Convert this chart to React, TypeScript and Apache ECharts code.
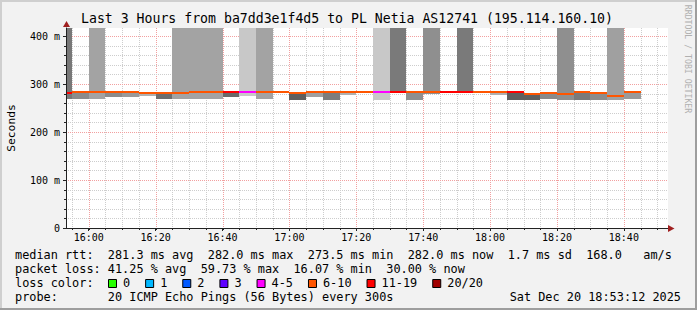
import React, { useEffect, useRef } from 'react';
import * as echarts from 'echarts';

// ---------- data ----------
const TITLE = 'Last 3 Hours from ba7dd3e1f4d5 to PL Netia AS12741 (195.114.160.10)';
const Y_AXIS_NAME = 'Seconds';
const WATERMARK = 'RRDTOOL / TOBI OETIKER';
const VIEW_START = '15:53:12';
const VIEW_END = '18:53:12';
const STEP_MIN = 5;

const intervalStarts = [
  '15:50', '15:55', '16:00', '16:05', '16:10', '16:15', '16:20', '16:25', '16:30', '16:35',
  '16:40', '16:45', '16:50', '16:55', '17:00', '17:05', '17:10', '17:15', '17:20', '17:25',
  '17:30', '17:35', '17:40', '17:45', '17:50', '17:55', '18:00', '18:05', '18:10', '18:15',
  '18:20', '18:25', '18:30', '18:35', '18:40',
];
// median rtt in ms
const medianRtt = [
  280, 282, 282, 282, 282, 281, 280, 280, 282, 282,
  282, 282, 282, 282, 280, 282, 282, 282, 282, 282,
  282, 282, 282, 282, 282, 282, 282, 282, 277.5, 279.5,
  277.5, 282, 281, 273.5, 282,
];
// index into lossLabels / lossColors
const lossCategory = [
  6, 5, 5, 5, 5, 5, 5, 5, 5, 5,
  6, 4, 5, 5, 5, 5, 5, 5, 5, 4,
  6, 5, 5, 6, 6, 5, 5, 6, 5, 5,
  5, 5, 5, 5, 5,
];
// smoke band (ms)
const smokeLow = [
  268, 269, 268, 273, 273, 275, 268, 268, 268, 268,
  272, 276, 268, 282, 266, 273, 266, 277.5, 282, 266,
  281, 266, 279, 282, 281, 282, 277.5, 266, 266, 269,
  266, 266, 266, 266, 269,
];
const smokeHigh = [
  600, 281, 600, 281, 281, 280, 279, 600, 600, 600,
  281, 600, 600, 282, 279, 281, 281, 281, 282, 600,
  600, 281, 600, 282, 600, 282, 281, 281, 281, 281,
  600, 281, 281, 600, 281,
];
const smokeShade = [
  '#787878', '#8c8c8c', '#a3a3a3', '#8c8c8c', '#9a9a9a', '#b0b0b0', '#6e6e6e', '#a3a3a3', '#a3a3a3', '#a3a3a3',
  '#6a6a6a', '#c8c8c8', '#a3a3a3', '#ffffff', '#5f5f5f', '#a0a0a0', '#7d7d7d', '#b0b0b0', '#ffffff', '#c8c8c8',
  '#7a7a7a', '#8f8f8f', '#8f8f8f', '#ffffff', '#7a7a7a', '#ffffff', '#b0b0b0', '#5f5f5f', '#5f5f5f', '#8a8a8a',
  '#8f8f8f', '#7a7a7a', '#8c8c8c', '#a0a0a0', '#9a9a9a',
];

const lossLabels = ['0', '1', '2', '3', '4-5', '6-10', '11-19', '20/20'];
const lossColors = ['#26ff00', '#00b8ff', '#0059ff', '#5e00ff', '#ff00ff', '#ff5500', '#ff0000', '#a10000'];

const xTickLabels = ['16:00', '16:20', '16:40', '17:00', '17:20', '17:40', '18:00', '18:20', '18:40'];
const yTickValues = [0, 100, 200, 300, 400];
const Y_MAX = 416.67;

const rttStatNames = ['avg', 'max', 'min', 'now'];
const rttStatValues = ['281.3', '282.0', '273.5', '282.0'];
const rttSd = '1.7';
const rttAmS = '168.0';
const lossStatValues = ['41.25', '59.73', '16.07', '30.00'];
const probeText = '20 ICMP Echo Pings (56 Bytes) every 300s';
const dateText = 'Sat Dec 20 18:53:12 2025';

// ---------- helpers ----------
const toMin = (s: string) => {
  const p = s.split(':').map(Number);
  return p[0] * 60 + p[1] + (p[2] || 0) / 60;
};
const MONO = 'DejaVu Sans Mono';
const CHAR_W = 7.14;
const LEG_FS = 11.86;

const xTickValues = xTickLabels.map(toMin);
const viewStart = toMin(VIEW_START);
const viewEnd = toMin(VIEW_END);

const vGridData: number[][] = [];
for (let t = Math.ceil(viewStart / STEP_MIN) * STEP_MIN; t < viewEnd; t += STEP_MIN) {
  vGridData.push([t, t % 20 === 0 ? 1 : 0]);
}
const hGridData: number[][] = [];
for (let v = 20; v < Y_MAX; v += 20) {
  hGridData.push([viewStart, v, v % 100 === 0 ? 1 : 0]);
}

const bandData = intervalStarts.map((s, i) => [toMin(s), smokeLow[i], smokeHigh[i]]);
const medianData = intervalStarts.map((s, i) => [toMin(s), medianRtt[i]]);

const GRID_MINOR = '#cdcdcd';
const GRID_MAJOR = '#f2a0a0';

function clip(r: any, cs: any) {
  return echarts.graphic.clipRectByRect(r, { x: cs.x, y: cs.y, width: cs.width, height: cs.height });
}

function buildOption(): any {
  const legendLine1 =
    'median rtt:  ' +
    rttStatValues.map((v, i) => `${v} ms ${rttStatNames[i]}`).join('  ') +
    `  ${rttSd} ms sd  ${rttAmS}   am/s`;
  const legendLine2 =
    'packet loss: ' + lossStatValues.map((v, i) => `${v} % ${rttStatNames[i]}`).join('  ');
  const legendLine4 = 'probe:'.padEnd(13, ' ') + probeText;

  const txt = (text: string, x: number, y: number, extra: any = {}) => ({
    type: 'text',
    x,
    y,
    silent: true,
    style: {
      text,
      fill: '#000',
      fontFamily: MONO,
      fontSize: LEG_FS,
      verticalAlign: 'middle',
      align: 'left',
      ...extra,
    },
  });

  const graphics: any[] = [
    // frame shading
    { type: 'rect', shape: { x: 0, y: 0, width: 697, height: 2 }, style: { fill: '#cfcfcf' }, silent: true },
    { type: 'rect', shape: { x: 0, y: 0, width: 2, height: 310 }, style: { fill: '#cfcfcf' }, silent: true },
    { type: 'rect', shape: { x: 0, y: 308, width: 697, height: 2 }, style: { fill: '#9e9e9e' }, silent: true },
    { type: 'rect', shape: { x: 695, y: 0, width: 2, height: 310 }, style: { fill: '#9e9e9e' }, silent: true },
    txt(TITLE, 347, 18, { fontSize: 13.2, align: 'center' }),
    {
      type: 'text', x: 11, y: 128, rotation: Math.PI / 2, silent: true,
      style: { text: Y_AXIS_NAME, fill: '#000', fontFamily: MONO, fontSize: 11.3, align: 'center', verticalAlign: 'middle' },
    },
    {
      type: 'text', x: 688, y: 59, rotation: -Math.PI / 2, silent: true,
      style: { text: WATERMARK, fill: '#b0b0b0', fontFamily: MONO, fontSize: 8.2, align: 'center', verticalAlign: 'middle' },
    },
    // arrows
    { type: 'polygon', shape: { points: [[63, 27], [70, 27], [66.5, 21]] }, style: { fill: '#a02020' }, silent: true, z: 20 },
    { type: 'polygon', shape: { points: [[668, 225], [668, 232], [674.5, 228.5]] }, style: { fill: '#a02020' }, silent: true, z: 20 },
    txt(legendLine1, 15, 254.7),
    txt(legendLine2, 15, 268.6),
    txt('loss color:', 15, 282.5),
    txt(legendLine4, 15, 296.5),
    txt(dateText, 681, 296.5, { align: 'right' }),
  ];
  let lx = 108;
  lossLabels.forEach((lab, i) => {
    graphics.push({
      type: 'rect', silent: true,
      shape: { x: lx + 0.5, y: 279.5, width: 8, height: 8 },
      style: { fill: lossColors[i], stroke: '#000', lineWidth: 1 },
    });
    graphics.push(txt(lab, lx + 15, 282.5));
    lx = lx + 15 + lab.length * CHAR_W + 15;
  });

  return {
    animation: false,
    backgroundColor: '#f2f2f2',
    grid: { left: 66, right: 29, top: 28, bottom: 82, show: true, backgroundColor: '#ffffff', borderWidth: 0 },
    xAxis: {
      type: 'value',
      min: viewStart,
      max: viewEnd,
      z: 10,
      axisLine: { show: true, lineStyle: { color: '#222', width: 1 } },
      axisTick: { show: true, customValues: xTickValues, length: 3, lineStyle: { color: '#222' } },
      axisLabel: {
        customValues: xTickValues,
        formatter: (v: number) => {
          const idx = xTickValues.findIndex((t) => Math.abs(t - v) < 0.01);
          return idx >= 0 ? xTickLabels[idx] : '';
        },
        fontFamily: MONO,
        fontSize: 10,
        color: '#000',
        margin: 4,
      },
      splitLine: { show: false },
    },
    yAxis: {
      type: 'value',
      min: 0,
      max: Y_MAX,
      z: 10,
      axisLine: { show: true, lineStyle: { color: '#222', width: 1 } },
      axisTick: { show: true, customValues: yTickValues, length: 3, lineStyle: { color: '#222' } },
      axisLabel: {
        customValues: yTickValues,
        formatter: (v: number) => (v === 0 ? '0' : `${v} m`),
        fontFamily: MONO,
        fontSize: 10,
        color: '#000',
        margin: 6,
      },
      splitLine: { show: false },
    },
    graphic: graphics,
    series: [
      {
        type: 'custom',
        name: 'vgrid',
        silent: true,
        z: 1,
        data: vGridData,
        encode: { x: 0, y: 1 },
        renderItem: (params: any, api: any) => {
          const t = api.value(0);
          const major = api.value(1) === 1;
          const cs = params.coordSys;
          const x = Math.round(api.coord([t, 0])[0]) + 0.5;
          return {
            type: 'group',
            children: [
              {
                type: 'line',
                shape: { x1: x, y1: cs.y, x2: x, y2: cs.y + cs.height },
                style: { stroke: major ? GRID_MAJOR : GRID_MINOR, lineWidth: 1, lineDash: [1, 1] },
              },
              {
                type: 'line',
                shape: { x1: x, y1: cs.y + cs.height, x2: x, y2: cs.y + cs.height + 2 },
                style: { stroke: '#222', lineWidth: 1 },
              },
            ],
          };
        },
      },
      {
        type: 'custom',
        name: 'hgrid',
        silent: true,
        z: 1,
        data: hGridData,
        encode: { x: 0, y: 1 },
        renderItem: (params: any, api: any) => {
          const v = api.value(1);
          const major = api.value(2) === 1;
          const cs = params.coordSys;
          const y = Math.round(api.coord([viewStart, v])[1]) + 0.5;
          return {
            type: 'group',
            children: [
              {
                type: 'line',
                shape: { x1: cs.x, y1: y, x2: cs.x + cs.width, y2: y },
                style: { stroke: major ? GRID_MAJOR : GRID_MINOR, lineWidth: 1, lineDash: [1, 1] },
              },
              {
                type: 'line',
                shape: { x1: cs.x - 2, y1: y, x2: cs.x, y2: y },
                style: { stroke: '#222', lineWidth: 1 },
              },
            ],
          };
        },
      },
      {
        type: 'custom',
        name: 'smoke',
        silent: true,
        z: 2,
        data: bandData,
        encode: { x: 0, y: [1, 2] },
        renderItem: (params: any, api: any) => {
          const i = params.dataIndex;
          const t = api.value(0);
          const lo = api.value(1);
          const hi = api.value(2);
          if (!(hi > lo)) return null;
          const p1 = api.coord([t, hi]);
          const p2 = api.coord([t + STEP_MIN, lo]);
          const x1 = Math.round(p1[0]);
          const x2 = Math.round(p2[0]);
          const y1 = Math.round(p1[1]);
          const y2 = Math.round(p2[1]);
          const shape = clip({ x: x1, y: y1, width: x2 - x1, height: y2 - y1 }, params.coordSys);
          return shape ? { type: 'rect', shape, style: { fill: smokeShade[i] } } : null;
        },
      },
      {
        type: 'custom',
        name: 'median rtt',
        silent: true,
        z: 3,
        data: medianData,
        encode: { x: 0, y: 1 },
        renderItem: (params: any, api: any) => {
          const i = params.dataIndex;
          const t = api.value(0);
          const m = api.value(1);
          const p1 = api.coord([t, m]);
          const p2 = api.coord([t + STEP_MIN, m]);
          const x1 = Math.round(p1[0]);
          const x2 = Math.round(p2[0]);
          const y = Math.round(p1[1] - 1.5);
          const shape = clip({ x: x1, y, width: x2 - x1, height: 2 }, params.coordSys);
          return shape ? { type: 'rect', shape, style: { fill: lossColors[lossCategory[i]] } } : null;
        },
      },
    ],
  };
}

export default function App() {
  const ref = useRef<HTMLDivElement>(null);
  useEffect(() => {
    if (!ref.current) return;
    const chart = echarts.init(ref.current, null, { renderer: 'svg' });
    chart.setOption(buildOption());
    return () => chart.dispose();
  }, []);
  return (
    <div
      ref={ref}
      style={{ position: 'fixed', left: 0, top: 0, width: 697, height: 310 }}
    />
  );
}
